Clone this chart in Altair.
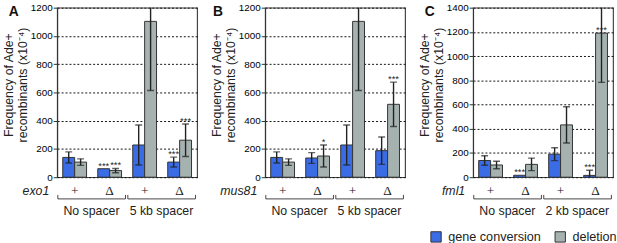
import altair as alt
import pandas as pd

# ---- data ----
groups = ["ns_plus", "ns_delta", "sp_plus", "sp_delta"]
genotype_marks = ["+", "Δ", "+", "Δ"]
types = ["gene conversion", "deletion"]
colors = ["#3a6ce6", "#a5b2b0"]

panels = ["A", "B", "C"]
genes = ["exo1", "mus81", "fml1"]
spacers = [["No spacer", "5 kb spacer"], ["No spacer", "5 kb spacer"], ["No spacer", "2 kb spacer"]]
y_max = [1200, 1200, 1400]

gc_mean = [[140, 60, 228, 107], [140, 136, 228, 188], [138, 16, 190, 15]]
gc_err = [[39, None, 142, 35], [39, 38, 142, 97], [39, None, 53, 42]]
gc_sig = [["", "***", "", "***"], ["", "", "", ""], ["", "***", "", "***"]]
del_mean = [[107, 47, 1103, 262], [107, 150, 1103, 516], [101, 106, 432, 1190]]
del_err = [[23, 15, 489, 115], [23, 78, 489, 157], [31, 52, 150, 407]]
del_sig = [["", "***", "", "***"], ["", "*", "", "***"], ["", "", "", "***"]]

y_title = ["Frequency of Ade+", "recombinants (x10⁻⁴)"]

W, H = 142, 172
letter_dx = [-49, -53, -49]
FONT = "Liberation Sans"


def panel(i):
    ymax = y_max[i]
    rows = []
    for t, means, errs, sigs in [
        (types[0], gc_mean[i], gc_err[i], gc_sig[i]),
        (types[1], del_mean[i], del_err[i], del_sig[i]),
    ]:
        for g, m, e, s in zip(groups, means, errs, sigs):
            low = m - e if e is not None else None
            high = m + e if e is not None else None
            anchor = high if (high is not None and high <= ymax) else m
            rows.append(dict(group=g, type=t, mean=m, low=low, high=high, sig=s, anchor=anchor))
    df = pd.DataFrame(rows)

    xscale = alt.Scale(domain=groups, paddingInner=0.32, paddingOuter=0.16)

    def X(field, bp=None):
        if bp is None:
            return alt.X(f"{field}:N", scale=xscale, axis=None)
        return alt.X(f"{field}:N", scale=xscale, axis=None, bandPosition=bp)

    xoff = alt.XOffset("type:N", scale=alt.Scale(domain=types, paddingInner=0, paddingOuter=0))

    yaxis = alt.Axis(
        values=list(range(0, ymax + 1, 200)),
        format="d",
        title=y_title,
        titleFont=FONT,
        titleFontSize=12.5,
        titleFontWeight="normal",
        titleColor="#222",
        titlePadding=1,
        titleY=78,
        labelFont=FONT,
        labelFontSize=10,
        labelColor="#000",
        labelPadding=1,
        tickSize=4,
        tickColor="#333",
        domainColor="#333",
        grid=True,
        gridColor="#111",
        gridDash=[2, 2],
        gridWidth=1,
    )
    yscale = alt.Scale(domain=[0, ymax], nice=False)

    def Y(field):
        return alt.Y(f"{field}:Q", scale=yscale, axis=yaxis)

    bars = alt.Chart(df).mark_bar(stroke="#333", strokeWidth=1).encode(
        x=X("group"),
        xOffset=xoff,
        y=Y("mean"),
        color=alt.Color(
            "type:N",
            scale=alt.Scale(domain=types, range=colors),
            legend=alt.Legend(
                title=None,
                orient="none",
                legendX=378,
                legendY=226,
                direction="horizontal",
                symbolType="square",
                symbolSize=110,
                symbolStrokeColor="#333",
                symbolStrokeWidth=1,
                labelFont=FONT,
                labelFontSize=12.8,
                labelColor="#222",
                columnPadding=12,
                labelOffset=6,
            ),
        ),
    )
    whisk = alt.Chart(df).mark_rule(clip=True, color="#222", strokeWidth=1.4).encode(
        x=X("group"), xOffset=xoff, y=Y("low"), y2="high"
    )
    cap_lo = alt.Chart(df).mark_tick(clip=True, color="#222", thickness=1.4, size=7).encode(
        x=X("group"), xOffset=xoff, y=Y("low")
    )
    cap_hi = alt.Chart(df).mark_tick(clip=True, color="#222", thickness=1.4, size=7).encode(
        x=X("group"), xOffset=xoff, y=Y("high")
    )
    stars = alt.Chart(df).transform_filter("datum.sig != ''").mark_text(
        font=FONT, fontSize=9.5, baseline="alphabetic", color="#222"
    ).encode(x=X("group"), xOffset=xoff, y=Y("anchor"), text="sig:N")

    geno = alt.Chart(pd.DataFrame({"group": groups, "mark": genotype_marks})).mark_text(
        font="Liberation Serif", fontSize=13.5, baseline="middle", color="#222"
    ).encode(x=X("group"), y=alt.value(H + 14), text="mark:N")

    gene = alt.Chart(pd.DataFrame({"gene": [genes[i]]})).mark_text(
        font=FONT, fontStyle="italic", fontSize=12.5, align="right", baseline="middle", color="#222"
    ).encode(x=alt.value(-8), y=alt.value(H + 14), text="gene:N")

    br = pd.DataFrame({"start": [groups[0], groups[2]], "end": [groups[1], groups[3]], "label": spacers[i]})
    br_h = alt.Chart(br).mark_rule(color="#444", strokeWidth=1, xOffset=-5, x2Offset=4).encode(
        x=X("start", 0), x2=alt.X2("end", bandPosition=1), y=alt.value(H + 22)
    )
    br_l = alt.Chart(br).mark_rule(color="#444", strokeWidth=1, xOffset=-5).encode(
        x=X("start", 0), y=alt.value(H + 18), y2=alt.value(H + 22)
    )
    br_r = alt.Chart(br).mark_rule(color="#444", strokeWidth=1, xOffset=4).encode(
        x=X("end", 1), y=alt.value(H + 18), y2=alt.value(H + 22)
    )
    br_t = alt.Chart(br).mark_text(font=FONT, fontSize=12.5, baseline="middle", dx=5, color="#222").encode(
        x=X("start", 1), y=alt.value(H + 34), text="label:N"
    )
    letter = alt.Chart(pd.DataFrame({"letter": [panels[i]]})).mark_text(
        font=FONT, fontSize=14, fontWeight="bold", align="left", baseline="alphabetic", color="#111"
    ).encode(x=alt.value(letter_dx[i]), y=alt.value(8), text="letter:N")

    return alt.layer(
        bars, whisk, cap_lo, cap_hi, stars, geno, gene, br_h, br_l, br_r, br_t, letter
    ).properties(width=W, height=H)


chart = alt.hconcat(panel(0), panel(1), panel(2), spacing=69, bounds="flush").properties(
    padding={"left": 1, "top": 0, "right": 0, "bottom": 0}
).configure(font=FONT).configure_view(stroke="#444", strokeWidth=1.2)

chart.save("out.html", embed_options={"renderer": "svg", "actions": False})
